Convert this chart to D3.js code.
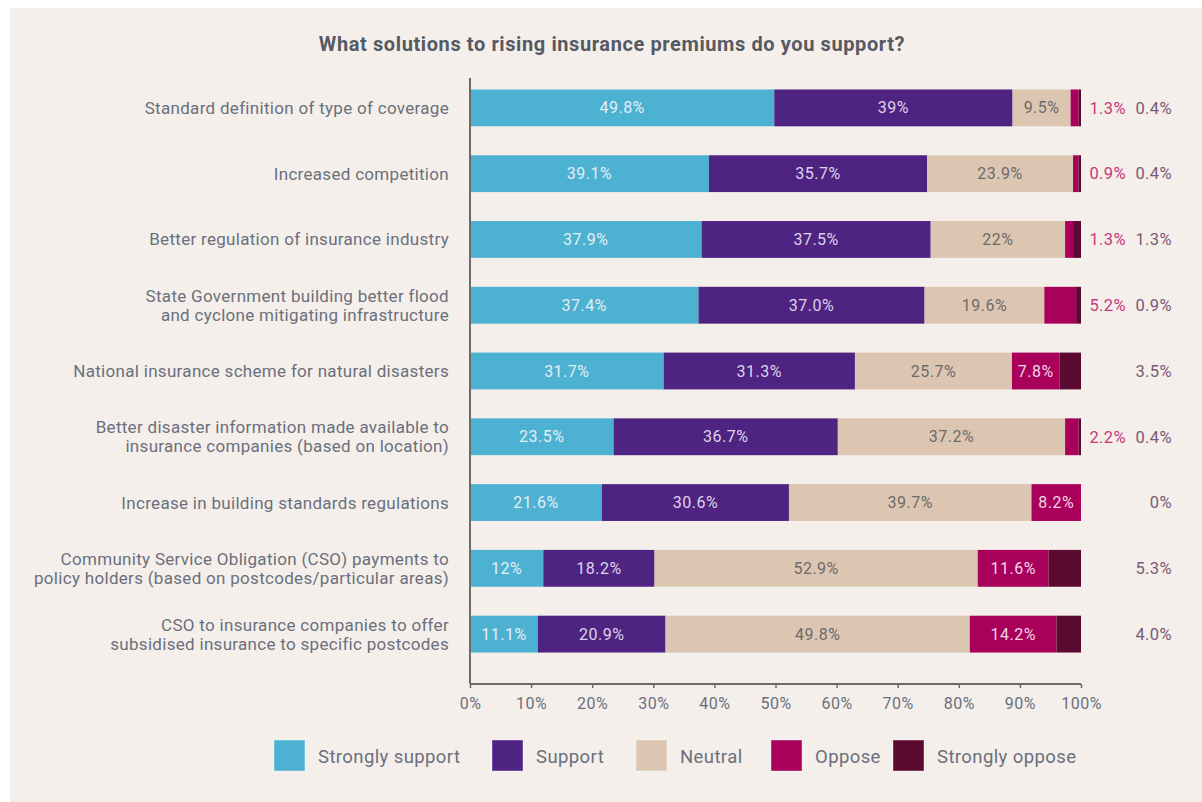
<!DOCTYPE html>
<html>
<head>
<meta charset="utf-8">
<script src="https://cdn.jsdelivr.net/npm/d3@7"></script>
<style>
  html, body { margin: 0; padding: 0; background: #ffffff; }
  svg { display: block; }
  text { font-family: Roboto, "Liberation Sans Narrow", "DejaVu Sans Condensed", sans-serif; }
</style>
</head>
<body>
<svg id="chart" width="1202" height="802"></svg>
<script>
// ---------- DATA ----------
const title = "What solutions to rising insurance premiums do you support?";
const categories = [
  ["Standard definition of type of coverage"],
  ["Increased competition"],
  ["Better regulation of insurance industry"],
  ["State Government building better flood", "and cyclone mitigating infrastructure"],
  ["National insurance scheme for natural disasters"],
  ["Better disaster information made available to", "insurance companies (based on location)"],
  ["Increase in building standards regulations"],
  ["Community Service Obligation (CSO) payments to", "policy holders (based on postcodes/particular areas)"],
  ["CSO to insurance companies to offer", "subsidised insurance to specific postcodes"]
];
const seriesNames = ["Strongly support", "Support", "Neutral", "Oppose", "Strongly oppose"];
// values as printed on the chart
const stronglySupport = ["49.8", "39.1", "37.9", "37.4", "31.7", "23.5", "21.6", "12", "11.1"];
const support         = ["39", "35.7", "37.5", "37.0", "31.3", "36.7", "30.6", "18.2", "20.9"];
const neutral         = ["9.5", "23.9", "22", "19.6", "25.7", "37.2", "39.7", "52.9", "49.8"];
const oppose          = ["1.3", "0.9", "1.3", "5.2", "7.8", "2.2", "8.2", "11.6", "14.2"];
const stronglyOppose  = ["0.4", "0.4", "1.3", "0.9", "3.5", "0.4", "0", "5.3", "4.0"];
const xTicks = [0, 10, 20, 30, 40, 50, 60, 70, 80, 90, 100];

// ---------- STYLE / LAYOUT ----------
const colors = ["#4db1d1", "#4f2382", "#dcc6b1", "#a8005b", "#5a0a30"];
const labelColors = ["#e4eef5", "#ddd3ea", "#6d6a6a", "#f3d4e4", "#f0d8e0"];
const textColor = "#6b6f7c";
const W = 1202, H = 802;
const margin = { left: 470, right: 121, top: 78, bottom: 118 };

const svg = d3.select("#chart");
svg.append("rect").attr("x", 10).attr("y", 8).attr("width", W - 10).attr("height", H - 8).attr("fill", "#f4efeb");

const allSeries = [stronglySupport, support, neutral, oppose, stronglyOppose];
const rows = categories.map((c, i) => {
  let acc = 0;
  const segs = allSeries.map((s, k) => {
    const v = +s[i];
    const seg = { k, v, text: s[i] + "%", x0: acc, x1: acc + v };
    acc += v;
    return seg;
  });
  return { i, label: c, segs };
});

const x = d3.scaleLinear().domain([0, 100]).range([margin.left, W - margin.right]);
const y = d3.scaleBand().domain(d3.range(categories.length)).range([margin.top - 3, H - margin.bottom - 17]).paddingInner(0.44).paddingOuter(0.22);

// title
svg.append("text").attr("x", 612).attr("y", 51).attr("text-anchor", "middle")
  .attr("font-size", 20).attr("letter-spacing", 0.6).attr("font-weight", "bold").attr("fill", "#555a63").text(title);

// bars
const g = svg.append("g");
rows.forEach(r => {
  const yy = y(r.i), bh = y.bandwidth();
  r.segs.forEach(s => {
    const x0 = x(Math.min(s.x0, 100)), x1 = x(Math.min(s.x1, 100));
    if (x1 - x0 > 0) {
      g.append("rect").attr("x", x0).attr("y", yy).attr("width", x1 - x0).attr("height", bh).attr("fill", colors[s.k]);
    }
  });
  // labels inside
  r.segs.forEach(s => {
    const inside = s.k < 3 || (s.k === 3 && s.v >= 7);
    if (inside) {
      g.append("text").attr("x", (x(s.x0) + x(Math.min(s.x1, 100))) / 2).attr("y", yy + bh / 2)
        .attr("dy", "0.35em").attr("text-anchor", "middle").attr("font-size", 16).attr("letter-spacing", 0.5)
        .attr("fill", labelColors[s.k]).text(s.text);
    }
  });
  const op = r.segs[3], so = r.segs[4];
  if (op.v < 7) {
    g.append("text").attr("x", 1126).attr("y", yy + bh / 2).attr("dy", "0.35em").attr("text-anchor", "end")
      .attr("font-size", 16.5).attr("letter-spacing", 0.4).attr("fill", "#c8387c").text(op.text);
  }
  g.append("text").attr("x", 1172).attr("y", yy + bh / 2).attr("dy", "0.35em").attr("text-anchor", "end")
    .attr("font-size", 16.5).attr("letter-spacing", 0.4).attr("fill", "#7a5a78").text(so.text);

  // category labels
  const n = r.label.length;
  r.label.forEach((line, li) => {
    g.append("text").attr("x", 449).attr("y", yy + bh / 2 + (li - (n - 1) / 2) * 19)
      .attr("dy", "0.35em").attr("text-anchor", "end").attr("font-size", 17).attr("letter-spacing", 0.3)
      .attr("fill", textColor).text(line);
  });
});

// axes
const axisY = 684;
const xAxis = d3.axisBottom(x).tickValues(xTicks).tickFormat(d => d + "%").tickSize(4).tickPadding(10);
const ax = svg.append("g").attr("transform", `translate(0,${axisY})`).call(xAxis);
ax.select(".domain").attr("stroke", "#6b6b6b").attr("stroke-width", 2).attr("d", `M${x(0)},0H${x(100)}`);
ax.selectAll(".tick line").attr("stroke", "#6b6b6b").attr("stroke-width", 1.5);
ax.selectAll(".tick text").attr("font-size", 16).attr("letter-spacing", 0.5).attr("fill", textColor)
  .attr("font-family", 'Roboto, "Liberation Sans Narrow", sans-serif');
svg.append("line").attr("x1", x(0)).attr("x2", x(0)).attr("y1", margin.top).attr("y2", axisY)
  .attr("stroke", "#6b6b6b").attr("stroke-width", 2);

// legend
const legendX = [274, 492, 636, 771, 893];
const leg = svg.append("g");
seriesNames.forEach((name, k) => {
  leg.append("rect").attr("x", legendX[k]).attr("y", 740).attr("width", 31).attr("height", 31)
    .attr("fill", colors[k]).attr("stroke", "#ffffff").attr("stroke-opacity", 0.4);
  leg.append("text").attr("x", legendX[k] + 44).attr("y", 757).attr("dy", "0.35em")
    .attr("font-size", 18.5).attr("letter-spacing", 0.4).attr("fill", textColor).text(name);
});
</script>
</body>
</html>
